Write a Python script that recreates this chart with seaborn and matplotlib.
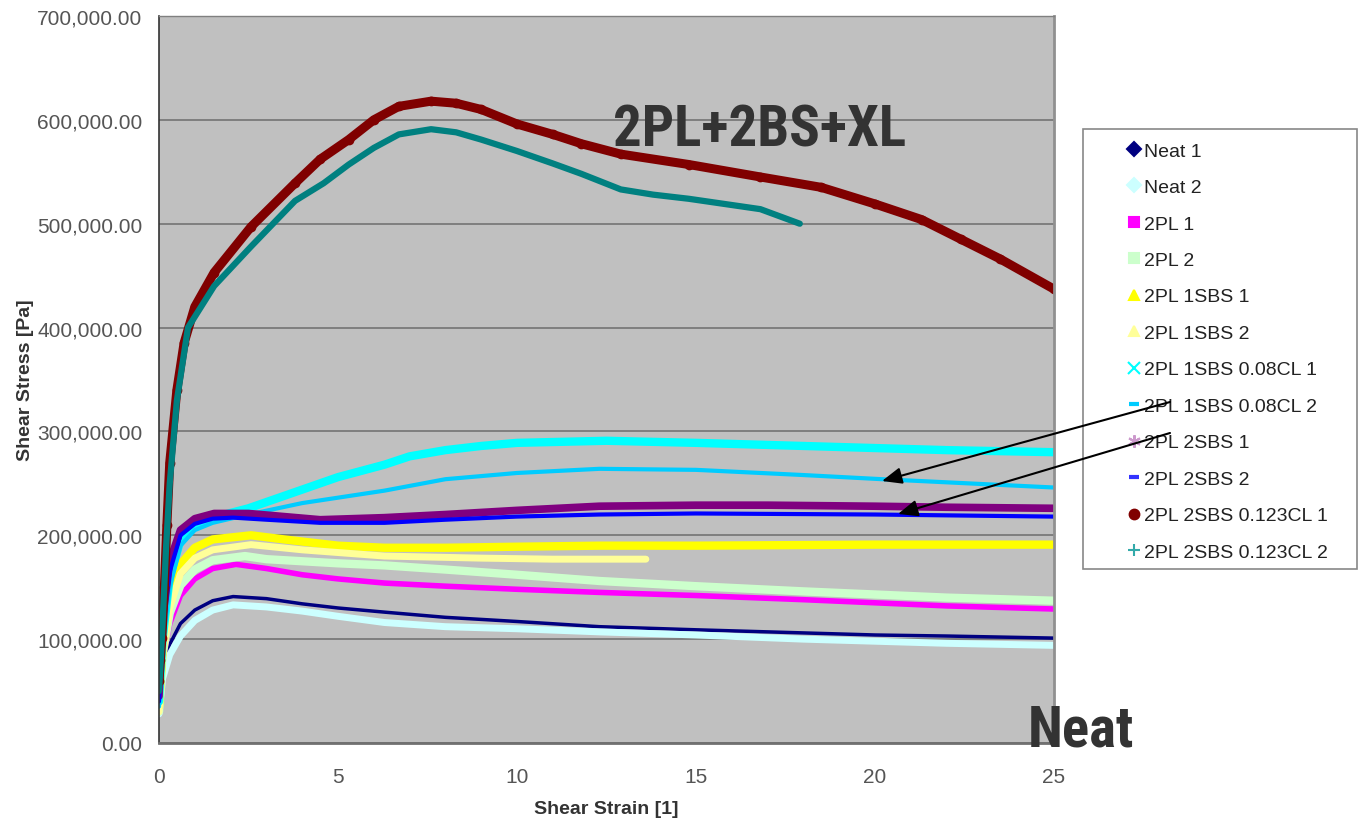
import matplotlib
matplotlib.use("Agg")
import matplotlib.pyplot as plt
import seaborn as sns
from matplotlib.lines import Line2D
from matplotlib.patches import Rectangle, FancyArrowPatch
from matplotlib.ticker import FuncFormatter, MultipleLocator

# values, stress in kPa (converted to Pa when plotted)
NEAT1_X = [0, 0.1, 0.3, 0.6, 1.0, 1.5, 2.07, 3, 4, 5, 6.3, 8, 10, 12.3, 15, 18, 20, 22, 25]
NEAT1_Y = [40, 72, 95, 115, 128, 137, 141, 139, 134, 130, 126, 121, 117, 112, 109, 106, 104, 103, 101]
NEAT2_X = [0, 0.1, 0.3, 0.6, 1.0, 1.5, 2.07, 3, 4, 5, 6.3, 8, 10, 12.3, 15, 18, 20, 22, 25]
NEAT2_Y = [28, 62, 85, 103, 118, 128, 133, 131, 127, 122, 116, 112, 110, 107, 104, 100, 98, 96, 94]
PL1_X = [0, 0.1, 0.3, 0.6, 1.0, 1.5, 2.15, 3, 4, 5, 6.3, 8, 10, 12.3, 15, 18, 20, 22, 25]
PL1_Y = [35, 80, 115, 142, 158, 168, 172, 168, 162, 158, 154, 151, 148, 145, 142, 138, 135, 132, 129]
PL2_X = [0, 0.1, 0.3, 0.6, 1.0, 1.5, 2.4, 3, 4, 5, 6.3, 8, 10, 12.3, 15, 18, 20, 22, 25]
PL2_Y = [30, 85, 125, 152, 167, 176, 180, 177, 175, 173, 171, 167, 162, 156, 151, 146, 143, 140, 137]
SBS1_X = [0, 0.1, 0.3, 0.6, 1.0, 1.5, 2.57, 3.5, 5, 6.3, 8, 10, 12.3, 15, 20, 25]
SBS1_Y = [35, 90, 140, 172, 188, 196, 200, 196, 190, 188, 188, 189, 190, 190, 191, 191]
SBS2_X = [0, 0.1, 0.3, 0.6, 1.0, 1.5, 2.57, 4, 6.3, 9, 11, 13.6]
SBS2_Y = [30, 85, 130, 163, 178, 186, 191, 186, 180, 178, 177, 177]
CL08_1_X = [0, 0.1, 0.3, 0.6, 1.0, 1.5, 2.5, 4, 5, 6.3, 7, 8, 9, 10, 12.5, 15, 18, 20, 22, 25]
CL08_1_Y = [40, 100, 160, 195, 210, 217, 226, 244, 256, 268, 276, 282, 286, 289, 291, 289, 286, 284, 282, 280]
CL08_2_X = [0, 0.1, 0.3, 0.6, 1.0, 1.5, 2.5, 4, 6.3, 8, 10, 12.3, 15, 18, 20.2, 22, 25]
CL08_2_Y = [35, 95, 150, 190, 205, 212, 220, 231, 243, 254, 260, 264, 263, 258, 254, 251, 246]
SBS21_X = [0, 0.1, 0.3, 0.6, 1.0, 1.54, 2.5, 3.5, 4.5, 6.3, 8, 10, 12.3, 15, 17, 20, 22, 25]
SBS21_Y = [45, 120, 175, 205, 216, 221, 221, 218, 215, 217, 220, 224, 228, 229, 229, 228, 227, 226]
SBS22_X = [0, 0.1, 0.3, 0.6, 1.0, 1.5, 2.07, 3, 4.5, 6.3, 8, 10, 12.3, 15, 20, 25]
SBS22_Y = [40, 110, 165, 200, 211, 216, 217, 215, 212, 212, 215, 218, 220, 221, 220, 218]
CL123_1_X = [0, 0.04, 0.08, 0.15, 0.22, 0.3, 0.5, 0.7, 1.0, 1.54, 2.57, 3.8, 4.5, 5.3, 6.0, 6.7,
             7.6, 8.3, 9, 10, 11, 11.8, 12.9, 14.8, 16.8, 18.5, 20, 21.3, 22.4, 23.5, 25]
CL123_1_Y = [60, 80, 101, 150, 210, 270, 340, 385, 420, 453, 497, 539, 562, 581, 600, 613,
             618, 616, 610, 596, 586, 577, 567, 557, 545, 535, 519, 504, 485, 466, 437]
CL123_2_X = [0, 0.05, 0.1, 0.2, 0.3, 0.5, 0.81, 1.54, 2.57, 3.8, 4.6, 5.3, 6.0, 6.7, 7.6, 8.3,
             9, 10, 11, 11.8, 12.9, 13.8, 14.8, 16.8, 17.9]
CL123_2_Y = [50, 80, 115, 190, 250, 330, 400, 440, 478, 522, 539, 557, 573, 586, 591, 588,
             581, 570, 558, 548, 533, 528, 524, 514, 500]

LABELS = ["Neat 1", "Neat 2", "2PL 1", "2PL 2", "2PL 1SBS 1", "2PL 1SBS 2",
          "2PL 1SBS 0.08CL 1", "2PL 1SBS 0.08CL 2", "2PL 2SBS 1", "2PL 2SBS 2",
          "2PL 2SBS 0.123CL 1", "2PL 2SBS 0.123CL 2"]
SERIES = [(NEAT1_X, NEAT1_Y), (NEAT2_X, NEAT2_Y), (PL1_X, PL1_Y), (PL2_X, PL2_Y),
          (SBS1_X, SBS1_Y), (SBS2_X, SBS2_Y), (CL08_1_X, CL08_1_Y), (CL08_2_X, CL08_2_Y),
          (SBS21_X, SBS21_Y), (SBS22_X, SBS22_Y), (CL123_1_X, CL123_1_Y), (CL123_2_X, CL123_2_Y)]

COLORS = ["#000080", "#CCFFFF", "#FF00FF", "#CCFFCC", "#FFFF00", "#FFFF99",
          "#00FFFF", "#00CCFF", "#800080", "#0000FF", "#800000", "#008080"]
WIDTHS = [2.5, 5, 4, 6, 6, 5, 6, 3, 5.5, 3, 6.5, 4.5]
LEG_MARKERS = ["D", "D", "s", "s", "^", "^", "x", "_", (6, 2, 0), "_", "o", "+"]
LEG_COLORS = ["#000080", "#CCFFFF", "#FF00FF", "#CCFFCC", "#FFFF00", "#FFFF99",
              "#00FFFF", "#00CCFF", "#CC99CC", "#3333FF", "#800000", "#33AAAA"]

sns.set_style("white")
plt.rcParams['font.family'] = ['Liberation Sans', 'DejaVu Sans']

W, H = 1358, 820
fig = plt.figure(figsize=(W / 100, H / 100), dpi=100)
ax = fig.add_axes([159 / W, 1 - 744 / H, (1054 - 159) / W, (744 - 17) / H])
ax.set_facecolor("#C0C0C0")

for i, (xs, ys) in enumerate(SERIES):
    kw = {}
    if i == 10:
        kw = dict(marker="o", markersize=7, markeredgewidth=0)
    sns.lineplot(x=xs, y=[v * 1000 for v in ys], ax=ax, color=COLORS[i], linewidth=WIDTHS[i],
                 sort=False, estimator=None, legend=False, solid_capstyle="round",
                 solid_joinstyle="round", **kw)

ax.set_xlim(0, 25)
ax.set_ylim(0, 700000)
ax.xaxis.set_major_locator(MultipleLocator(5))
ax.yaxis.set_major_locator(MultipleLocator(100000))
ax.yaxis.set_major_formatter(FuncFormatter(lambda v, p: f"{v:,.2f}"))
ax.yaxis.grid(True, color="#7a7a7a", linewidth=1.3)
ax.xaxis.grid(False)
ax.set_axisbelow(True)

ax.tick_params(axis="both", direction="out", length=5, width=1, color="#555555",
               labelsize=15, labelcolor="#555555")
ax.tick_params(axis="y", pad=7)
ax.tick_params(axis="x", pad=12)
for side, col, lw in [("left", "#333333", 1.2), ("bottom", "#707070", 2),
                      ("right", "#909090", 2), ("top", "#808080", 1)]:
    ax.spines[side].set_color(col)
    ax.spines[side].set_linewidth(lw)

ax.set_xlabel("Shear Strain [1]", fontsize=14, fontweight="bold", color="#333333")
ax.set_ylabel("Shear Stress [Pa]", fontsize=14, fontweight="bold", color="#333333")
ax.xaxis.set_label_coords(0.5, (744 - 801) / 727)
ax.yaxis.set_label_coords((34 - 159) / 895, 0.5)

# legend box
fig.add_artist(Rectangle((1083 / W, 1 - 570 / H), (1357 - 1083) / W, 440 / H,
                         transform=fig.transFigure, facecolor="white",
                         edgecolor="#888888", linewidth=1.2, zorder=1))
handles = []
for m, c in zip(LEG_MARKERS, LEG_COLORS):
    ms = 7
    mew = 1.5
    if m == "_":
        mew = 3
    if m in ("x", "+", (6, 2, 0)):
        ms = 9
    handles.append(Line2D([], [], linestyle="none", marker=m, color=c, markerfacecolor=c,
                          markeredgecolor=c, markersize=ms, markeredgewidth=mew))
fig.legend(handles, LABELS, loc="upper left", bbox_to_anchor=(1129 / W, 1 - 143 / H),
           frameon=False, borderpad=0, borderaxespad=0, handlelength=0.55,
           handletextpad=0.2, labelspacing=0.97, fontsize=14, labelcolor="#222222")

# arrows from legend to curves
for (x1, y1), (x2, y2) in [((1170, 403), (882, 482)), ((1170, 434), (898, 515))]:
    fig.add_artist(FancyArrowPatch((x1 / W, 1 - y1 / H), (x2 / W, 1 - y2 / H),
                                   transform=fig.transFigure,
                                   arrowstyle="-|>,head_length=0.6,head_width=0.25",
                                   mutation_scale=20, color="black", linewidth=1.5,
                                   shrinkA=0, shrinkB=0, zorder=6))

big = dict(family=["Liberation Sans Narrow", "Roboto Condensed", "DejaVu Sans"],
           fontweight="bold", color="#333333", fontsize=41, zorder=7)
fig.text(760 / W, 1 - 147 / H, "2PL+2BS+XL", ha="center", va="baseline", **big)
fig.text(1028 / W, 1 - 747 / H, "Neat", ha="left", va="baseline", **big)

fig.savefig("out.png", dpi=100, facecolor="white")
